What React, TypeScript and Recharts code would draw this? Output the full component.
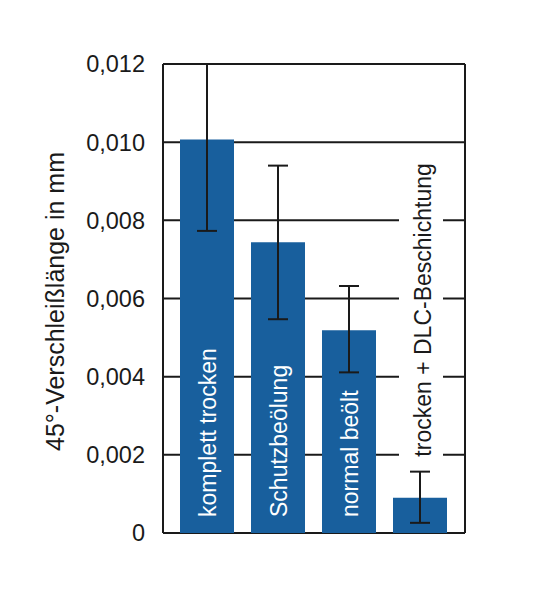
import React from 'react';
import { BarChart, Bar, XAxis, YAxis, CartesianGrid, ErrorBar, LabelList } from 'recharts';

const categories = ['komplett trocken', 'Schutzbeölung', 'normal beölt', 'trocken + DLC-Beschichtung'];
const wearLength = [0.01007, 0.00744, 0.00519, 0.0009];
const errorLow = [0.00234, 0.00197, 0.00108, 0.00064];
const errorHigh = [0.00193, 0.00196, 0.00113, 0.00067];
const yTicks = [0, 0.002, 0.004, 0.006, 0.008, 0.01, 0.012];
const labelInside = [true, true, true, false];

const data = categories.map((c, i) => ({
  name: c,
  value: wearLength[i],
  err: [errorLow[i], errorHigh[i]],
  inside: labelInside[i],
}));

const FONT = '"Liberation Sans", Arial, Helvetica, sans-serif';
const INK = '#1a1a1a';
const BAR = '#185f9d';

const fmt = (v: number) => (v === 0 ? '0' : v.toFixed(3).replace('.', ','));

const BarLabel = (props: any) => {
  const vb = props.viewBox ?? props;
  const x = Number(vb.x);
  const y = Number(vb.y);
  const w = Number(vb.width);
  const h = Number(vb.height);
  const i = props.index as number;
  const cx = x + w / 2;
  const text = categories[i];
  if (labelInside[i]) {
    const sy = y + h - 16;
    return (
      <text
        x={cx + 1}
        y={sy}
        transform={`rotate(-90 ${cx + 1} ${sy})`}
        textAnchor="start"
        dominantBaseline="central"
        fill="#ffffff"
        fontSize={23}
        fontFamily={FONT}
      >
        {text}
      </text>
    );
  }
  const errPx = h * (errorHigh[i] / wearLength[i]);
  const sy = y - errPx - 15;
  return (
    <g>
      <rect x={cx - 21} y={sy - 300} width={44} height={304} fill="#ffffff" />
      <text
        x={cx + 3}
        y={sy}
        transform={`rotate(-90 ${cx + 3} ${sy})`}
        textAnchor="start"
        dominantBaseline="central"
        fill={INK}
        fontSize={23}
        fontFamily={FONT}
      >
        {text}
      </text>
    </g>
  );
};

const YLabel = (props: any) => {
  const vb = props.viewBox;
  const lx = vb.x + 55;
  const ly = vb.y + vb.height / 2 + 3;
  return (
    <text
      x={lx}
      y={ly}
      transform={`rotate(-90 ${lx} ${ly})`}
      textAnchor="middle"
      dominantBaseline="central"
      fill={INK}
      fontSize={25}
      fontFamily={FONT}
    >
      45°-Verschleißlänge in mm
    </text>
  );
};

export default function App() {
  return (
    <div style={{ position: 'absolute', left: 0, top: 0, width: 545, height: 600, background: '#fff' }}>
      <BarChart
        width={545}
        height={600}
        data={data}
        margin={{ top: 64, right: 79, bottom: 67, left: 0 }}
        barSize={54}
      >
        <CartesianGrid vertical={false} stroke={INK} strokeWidth={2} />
        <XAxis
          dataKey="name"
          height={0}
          tick={false}
          tickLine={false}
          axisLine={{ stroke: INK, strokeWidth: 2 }}
          padding={{ left: 8, right: 10 }}
        />
        <YAxis
          domain={[0, 0.012]}
          ticks={yTicks}
          width={163}
          tickFormatter={fmt}
          tickLine={false}
          tickSize={6}
          tickMargin={12}
          axisLine={{ stroke: INK, strokeWidth: 2 }}
          tick={{ fill: INK, fontSize: 23.5, fontFamily: FONT }}
          label={<YLabel />}
          allowDataOverflow
        />
        <YAxis
          yAxisId="right"
          orientation="right"
          domain={[0, 0.012]}
          width={1}
          tick={false}
          tickLine={false}
          axisLine={{ stroke: INK, strokeWidth: 2 }}
        />
        <Bar dataKey="value" fill={BAR} isAnimationActive={false}>
          <ErrorBar dataKey="err" width={10} stroke={INK} strokeWidth={2} direction="y" />
          <LabelList dataKey="value" content={<BarLabel />} />
        </Bar>
      </BarChart>
    </div>
  );
}
